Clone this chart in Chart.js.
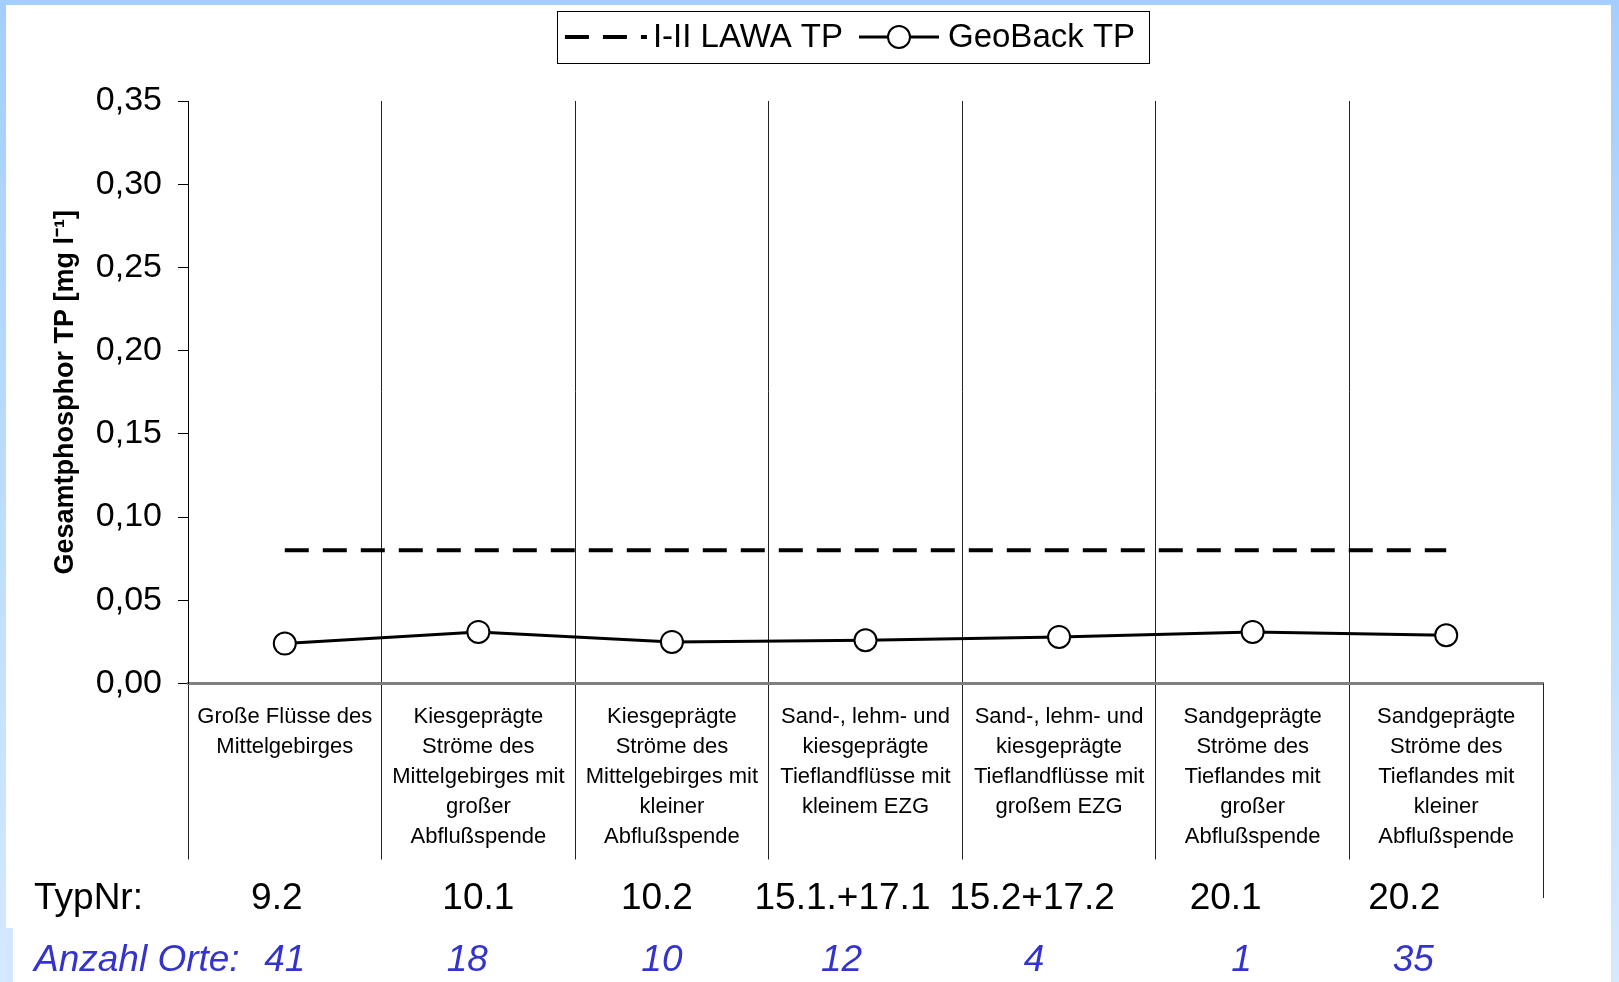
<!DOCTYPE html>
<html>
<head>
<meta charset="utf-8">
<script src="https://cdn.jsdelivr.net/npm/chart.js@4.4.0/dist/chart.umd.min.js"></script>
<style>
  html, body { margin: 0; padding: 0; }
  body {
    width: 1619px; height: 982px; overflow: hidden; position: relative;
    background: linear-gradient(to bottom, #a4cefe 0%, #bcdcff 50%, #d5e9ff 100%);
  }
  #sheet { position: absolute; left: 6px; top: 5px; width: 1605px; height: 977px; background: #fff; }
  #notch { position: absolute; left: 6px; top: 928px; width: 7px; height: 54px; background: #d2e6ff; }
  #wrap { position: absolute; left: 0; top: 0; width: 1619px; height: 982px; }
</style>
</head>
<body>
<div id="sheet"></div>
<div id="notch"></div>
<div id="wrap"><canvas id="chart"></canvas></div>
<script>
// Gewässertypen (Kategorien)
const categories = [
    ['Große Flüsse des', 'Mittelgebirges'],
    ['Kiesgeprägte', 'Ströme des', 'Mittelgebirges mit', 'großer', 'Abflußspende'],
    ['Kiesgeprägte', 'Ströme des', 'Mittelgebirges mit', 'kleiner', 'Abflußspende'],
    ['Sand-, lehm- und', 'kiesgeprägte', 'Tieflandflüsse mit', 'kleinem EZG'],
    ['Sand-, lehm- und', 'kiesgeprägte', 'Tieflandflüsse mit', 'großem EZG'],
    ['Sandgeprägte', 'Ströme des', 'Tieflandes mit', 'großer', 'Abflußspende'],
    ['Sandgeprägte', 'Ströme des', 'Tieflandes mit', 'kleiner', 'Abflußspende']
];
const typNr = ['9.2', '10.1', '10.2', '15.1.+17.1', '15.2+17.2', '20.1', '20.2'];
const anzahlOrte = ['41', '18', '10', '12', '4', '1', '35'];

// Werte in mg/l
const geoBackTP = [0.024, 0.031, 0.025, 0.026, 0.028, 0.031, 0.029];
const lawaTP = [0.08, 0.08, 0.08, 0.08, 0.08, 0.08, 0.08];

const FONT = '"Liberation Sans", Arial, sans-serif';
const BLUE = '#3434cc';
const LAWA_DASH = [24, 14];

// Tabellenzeilen unter der Achse (leicht versetzt wie im Original)
const typShift = [-8, 0, -15, -23, -27, -27, -42];
const anzShift = [0, -11, -10, -24, -25, -11, -33];

const boxLegend = {
    id: 'boxLegend',
    afterDraw(chart) {
        const ctx = chart.ctx;
        const y = 37;
        ctx.save();
        ctx.font = '33px ' + FONT;
        const t1 = 'I-II LAWA TP', t2 = 'GeoBack TP';
        const w1 = ctx.measureText(t1).width, w2 = ctx.measureText(t2).width;
        const total = 8 + 82 + 6 + w1 + 16 + 80 + 9 + w2 + 14;
        const left = 853 - total / 2;
        ctx.lineWidth = 1;
        ctx.strokeStyle = '#000';
        ctx.strokeRect(Math.round(left) + 0.5, 11.5, Math.round(total), 52);

        let x = left + 8;
        ctx.lineWidth = 4;
        ctx.setLineDash(LAWA_DASH);
        ctx.beginPath(); ctx.moveTo(x, y); ctx.lineTo(x + 82, y); ctx.stroke();
        ctx.setLineDash([]);
        x += 88;
        ctx.fillStyle = '#000';
        ctx.textBaseline = 'middle';
        ctx.fillText(t1, x, y + 1);
        x += w1 + 16;
        ctx.lineWidth = 3;
        ctx.beginPath(); ctx.moveTo(x, y); ctx.lineTo(x + 80, y); ctx.stroke();
        ctx.beginPath(); ctx.arc(x + 40, y, 11, 0, Math.PI * 2);
        ctx.fillStyle = '#fff'; ctx.fill();
        ctx.lineWidth = 2; ctx.stroke();
        x += 89;
        ctx.fillStyle = '#000';
        ctx.fillText(t2, x, y + 1);
        ctx.restore();
    }
};

const tableRows = {
    id: 'tableRows',
    afterDraw(chart) {
        const ctx = chart.ctx;
        const xs = chart.scales.x;
        ctx.save();
        // rechte Begrenzungslinie
        ctx.strokeStyle = '#222';
        ctx.lineWidth = 1;
        ctx.beginPath();
        ctx.moveTo(Math.round(xs.right) + 0.5, xs.top);
        ctx.lineTo(Math.round(xs.right) + 0.5, 898);
        ctx.stroke();

        ctx.textBaseline = 'middle';
        ctx.font = '37px ' + FONT;
        ctx.fillStyle = '#000';
        ctx.textAlign = 'left';
        ctx.fillText('TypNr:', 34, 899);
        ctx.textAlign = 'center';
        typNr.forEach((t, i) => ctx.fillText(t, xs.getPixelForValue(i) + typShift[i], 899));

        ctx.font = 'italic 37px ' + FONT;
        ctx.fillStyle = BLUE;
        ctx.textAlign = 'left';
        ctx.fillText('Anzahl Orte:', 34, 961);
        ctx.textAlign = 'center';
        anzahlOrte.forEach((t, i) => ctx.fillText(t, xs.getPixelForValue(i) + anzShift[i], 961));
        ctx.restore();
    }
};

// letzte (rechte) Gitterlinie nur unterhalb der Achse
const gridCol = c => (c.type === 'tick' ? '#222' : 'rgba(0,0,0,0)');

const ctx = document.getElementById('chart').getContext('2d');
new Chart(ctx, {
    type: 'line',
    data: {
        labels: categories,
        datasets: [{
            label: 'I-II LAWA TP',
            data: lawaTP,
            borderColor: '#000',
            borderWidth: 4,
            borderDash: LAWA_DASH,
            pointRadius: 0,
            fill: false
        }, {
            label: 'GeoBack TP',
            data: geoBackTP,
            borderColor: '#000',
            borderWidth: 3,
            pointRadius: 11,
            pointBackgroundColor: '#fff',
            pointBorderColor: '#000',
            pointBorderWidth: 2,
            fill: false
        }]
    },
    options: {
        responsive: true,
        maintainAspectRatio: false,
        animation: false,
        layout: { padding: { top: 101, bottom: 122, left: 0, right: 76 } },
        plugins: { legend: { display: false }, tooltip: { enabled: false } },
        scales: {
            x: {
                type: 'category',
                offset: true,
                afterFit: s => { s.height = 176.5; },
                grid: {
                    offset: true,
                    drawOnChartArea: true,
                    color: gridCol,
                    tickColor: gridCol,
                    lineWidth: 1,
                    drawTicks: true,
                    tickLength: 176
                },
                border: { display: true, color: '#808080', width: 3 },
                ticks: {
                    autoSkip: false,
                    maxRotation: 0,
                    minRotation: 0,
                    padding: -157,
                    color: '#000',
                    font: { family: FONT, size: 22, lineHeight: 1.355 }
                }
            },
            y: {
                min: 0,
                max: 0.35,
                afterFit: s => { s.width = 188; },
                grid: { drawOnChartArea: false, drawTicks: true, tickLength: 10, color: '#000', tickColor: '#000' },
                border: { display: true, color: '#000', width: 1 },
                ticks: {
                    stepSize: 0.05,
                    padding: 16,
                    color: '#000',
                    font: { family: FONT, size: 34 },
                    callback: v => v.toFixed(2).replace('.', ',')
                },
                title: {
                    display: true,
                    text: 'Gesamtphosphor TP [mg l⁻¹]',
                    color: '#000',
                    font: { family: FONT, size: 27, weight: 'bold' },
                    padding: { top: 49, bottom: 0 }
                }
            }
        }
    },
    plugins: [boxLegend, tableRows]
});
</script>
</body>
</html>
